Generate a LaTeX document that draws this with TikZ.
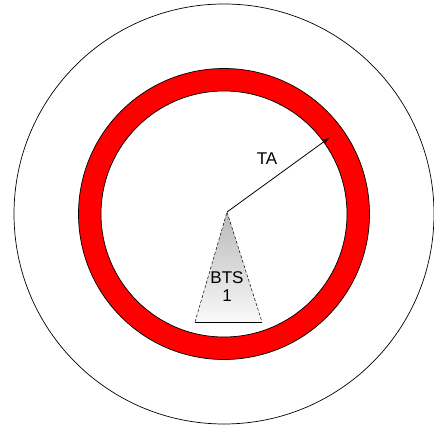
\documentclass[tikz,border=0pt]{standalone}
\usepackage{fontspec}
\setmainfont{Liberation Sans}
\usetikzlibrary{arrows.meta}

\begin{document}
\begin{tikzpicture}[
    x=1pt, y=1pt,
    cell/.style={draw=black, line width=0.7pt},
    ring/.style={draw=black, line width=0.7pt, fill=red, even odd rule},
    bts/.style={top color=gray!55, bottom color=gray!4, draw=none},
    btsedge/.style={draw=black, line width=0.5pt, densely dashed},
    label/.style={font=\fontsize{17}{18}\selectfont, align=center, inner sep=0pt},
    arrow/.style={-{Stealth[length=7pt,width=5pt]}, line width=0.8pt}
]
\useasboundingbox (0,0) rectangle (434,426);
\coordinate (c) at (224,212);
\coordinate (apex) at (227,214);
\coordinate (bl) at (195,104);
\coordinate (br) at (262,104);
\coordinate (taend) at (329,288);
% outer cell and timing advance ring
\draw[cell] (c) circle (210);
\path[ring] (c) circle (145.5) (c) circle (123);
% base station
\path[bts] (apex) -- (br) -- (bl) -- cycle;
\draw[btsedge] (bl) -- (apex) -- (br);
\draw[line width=0.5pt] (bl) -- (br);
\node[label] (btslabel) at (227,139) {BTS\\1};
% timing advance
\draw[arrow] (apex) -- (taend);
\node[label] (ta) at (267,267) {TA};
\end{tikzpicture}
\end{document}
